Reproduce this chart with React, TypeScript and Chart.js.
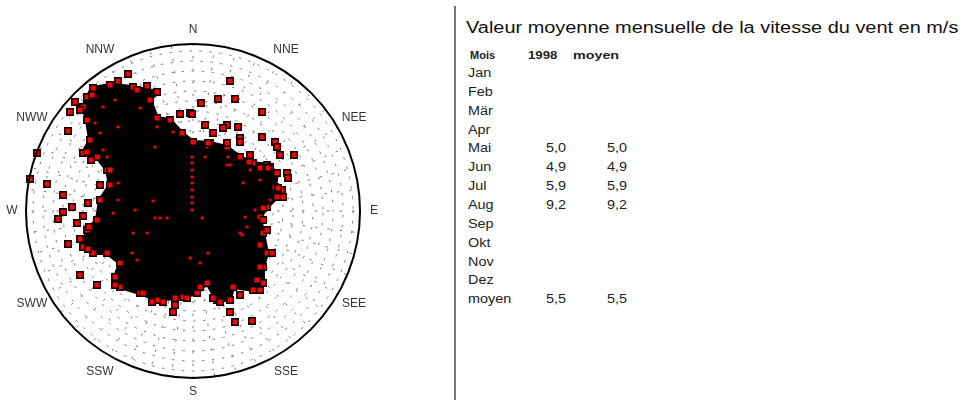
import React, { useEffect, useRef } from "react";
import { Chart, registerables } from "chart.js";

Chart.register(...registerables);

// Wind rose: each observation is stored as its east / north components in m/s.
const R_MAX = 16.7;
const DIRECTIONS = ["N", "NNE", "NEE", "E", "SEE", "SSE", "S", "SSW", "SWW", "W", "NWW", "NNW"];

// Outline of the dense core of observations (east, north components)
const cloudEast = [
  -10.0, -8.3, -6.0, -3.6, -4.3, -3.6, -2.3, -1.1, 0.0, 1.7, 3.4, 4.7, 6.0, 7.4, 8.4, 8.2, 8.4, 7.4,
  6.7, 7.0, 7.4, 7.0, 7.0, 6.0, 4.0, 3.7, 2.4, 1.4, 0.4, -1.0, -1.8, -3.6, -5.3, -7.3, -7.8, -7.3,
  -8.6, -10.0, -11.0, -10.6, -9.6, -9.3, -8.3, -8.6, -9.6, -11.0, -10.3, -10.6, -11.0, -10.6, -10.0,
];
const cloudNorth = [
  12.3, 12.6, 12.4, 11.9, 11.1, 9.3, 9.1, 7.8, 6.9, 6.8, 6.4, 5.4, 4.8, 4.6, 3.8, 2.4, 1.4, 0.4,
  -0.6, -2.2, -4.2, -5.6, -7.2, -7.9, -7.6, -8.9, -8.9, -7.2, -8.2, -8.6, -8.7, -8.9, -8.2, -7.6, -6.6,
  -5.2, -4.2, -4.2, -3.6, -1.9, -0.9, 1.1, 2.6, 4.1, 5.4, 5.8, 7.1, 9.1, 10.4, 11.4, 12.3,
];

// Observations visible inside the dense core
const innerEast = [
  -0.1, -0.1, -0.1, -0.1, -0.1, -0.1, -0.1, -0.1, -0.1, -4.0, -5.8, -3.8, -3.3, -2.6, 0.9, 1.2, 1.4,
  3.7, 3.5, 5.0, 5.2, 4.7, 5.4, -4.6, -6.0, -6.1, -5.6, -0.3, 0.7, 1.5, -7.5, -7.5, -8.0, -9.8, -9.0,
  -9.8, -9.3, -9.0, -8.6, -7.8, -7.5, -5.3, -3.6, -3.8, -2.0, 3.4, 5.7, 6.7, 7.7, 6.2, 4.9,
];
const innerNorth = [
  5.4, 4.8, 4.1, 3.4, 2.8, 2.1, 1.4, 0.8, 0.1, 1.0, 0.1, -0.7, -0.7, -0.7, -0.7, 5.4, 6.4, 4.6, 5.4,
  2.8, -0.6, -2.2, -1.6, -2.2, -2.2, -4.2, -4.9, -4.7, -5.2, -4.2, 2.8, 1.1, -0.2, 11.4, 10.4, 8.8,
  7.8, 6.1, 5.4, 11.1, 8.4, 10.3, 8.4, 6.4, 7.9, 4.6, 4.1, 3.1, 1.1, 0.1, -2.4,
];

// Scattered single observations around the core
const singleEast = [
  -6.5, -7.5, -5.6, -4.6, -3.6, 3.7, 2.5, 4.2, 0.8, -0.3, -1.3, 6.9, 1.2, 3.4, 4.5, 2.0, 3.0, 4.7,
  6.9, 8.2, 8.4, 8.7, 10.1, 7.7, 9.4, 8.9, 9.0, 7.0, 7.4, 7.9, 6.7, 6.4, 3.7, 4.2, 5.9, -2.0, 2.7,
  -5.0, -7.8, -9.6, -11.3, -12.5, -11.3, -13.5, -13.0, -12.1, -10.5, -13.0, -14.6, -16.3, -15.6,
  -12.5, -12.3, -11.3, -11.8, -9.3, -10.6, -11.6, -4.1, -1.8, 6.7, 0.7,
  -0.1, 4.7, 1.5, 3.4, 5.7, 5.6, 6.7, 7.5, 9.5, 8.5, 7.0, 6.7, -10.1, -10.2, -8.3, -11.0, -10.4,
  -10.5, -3.0, -0.6, 2.0, 4.7,
];
const singleNorth = [
  13.7, 13.0, 12.1, 12.5, 11.9, 13.0, 11.2, 11.2, 10.8, 9.8, 9.7, 9.9, 8.6, 8.6, 8.4, 7.8, 8.3, 7.3,
  7.4, 6.9, 6.4, 5.6, 5.6, 4.4, 3.8, 2.1, 1.4, -0.9, -1.9, -4.2, -5.6, -6.9, -10.1, -11.1, -11.0,
  -10.1, -9.1, -8.2, -7.4, -7.4, -6.4, -3.3, -2.8, -0.8, -0.1, 0.4, 0.8, 1.6, 2.7, 3.2, 5.8, 8.0,
  9.9, 10.1, 10.9, 2.6, 5.9, -1.2, -9.1, -9.4, -7.9, -7.6,
  9.7, 6.9, 6.8, 6.8, 5.6, 4.9, 4.3, 4.3, 3.3, 2.3, 0.3, -3.4, 11.6, 5.1, 4.1, -0.5, -1.6,
  -3.8, -9.1, -8.7, -8.7, -8.4,
];

// Monthly mean wind speed table (m/s)
const MONTHS = ["Jan", "Feb", "Mär", "Apr", "Mai", "Jun", "Jul", "Aug", "Sep", "Okt", "Nov", "Dez"];
const SPEED_1998 = [null, null, null, null, 5.0, 4.9, 5.9, 9.2, null, null, null, null];
const SPEED_MEAN = [null, null, null, null, 5.0, 4.9, 5.9, 9.2, null, null, null, null];
const YEAR_1998 = 5.5;
const YEAR_MEAN = 5.5;

const toPoints = (east: number[], north: number[]) => east.map((e, i) => ({ x: e, y: north[i] }));
const fmt = (v: number | null) => (v == null ? "" : v.toFixed(1).replace(".", ","));

const roseGrid = {
  id: "roseGrid",
  beforeDatasetsDraw(chart: any) {
    const { ctx, scales } = chart;
    const cx = scales.x.getPixelForValue(0);
    const cy = scales.y.getPixelForValue(0);
    const unit = scales.x.getPixelForValue(1) - cx;
    ctx.save();
    ctx.fillStyle = "#ffffff";
    ctx.beginPath();
    ctx.arc(cx, cy, R_MAX * unit, 0, Math.PI * 2);
    ctx.fill();
    ctx.strokeStyle = "#7d7d7d";
    ctx.lineWidth = 1;
    // dotted speed rings
    ctx.setLineDash([2.5, 7.5]);
    let k = 0;
    for (let r = 1; r < R_MAX; r += 1) {
      ctx.lineDashOffset = (k * 4) % 10;
      ctx.beginPath();
      ctx.arc(cx, cy, r * unit, 0, Math.PI * 2);
      ctx.stroke();
      k++;
    }
    // dotted direction rays
    ctx.setLineDash([2.5, 10]);
    for (let a = 0; a < 360; a += 7.5) {
      const t = (a * Math.PI) / 180;
      ctx.lineDashOffset = (a * 3) % 12;
      ctx.beginPath();
      ctx.moveTo(cx + Math.sin(t) * unit * 4, cy - Math.cos(t) * unit * 4);
      ctx.lineTo(cx + Math.sin(t) * R_MAX * unit, cy - Math.cos(t) * R_MAX * unit);
      ctx.stroke();
    }
    ctx.restore();
  },
  afterDatasetsDraw(chart: any) {
    const { ctx, scales } = chart;
    const cx = scales.x.getPixelForValue(0);
    const cy = scales.y.getPixelForValue(0);
    const unit = scales.x.getPixelForValue(1) - cx;
    const R = R_MAX * unit;
    ctx.save();
    ctx.strokeStyle = "#000000";
    ctx.lineWidth = 2;
    ctx.beginPath();
    ctx.arc(cx, cy, R, 0, Math.PI * 2);
    ctx.stroke();
    ctx.fillStyle = "#333333";
    ctx.font = "12px 'Liberation Sans', Arial, sans-serif";
    ctx.textAlign = "center";
    ctx.textBaseline = "middle";
    DIRECTIONS.forEach((label, i) => {
      const t = (i * 30 * Math.PI) / 180;
      const d = i % 3 === 0 ? R + 14 : R + 19;
      ctx.fillText(label, cx + Math.sin(t) * d, cy - Math.cos(t) * d);
    });
    ctx.restore();
  },
};

function WindRose() {
  const ref = useRef<HTMLCanvasElement | null>(null);
  useEffect(() => {
    if (!ref.current) return;
    const cloud = toPoints(cloudEast, cloudNorth);
    const chart = new Chart(ref.current, {
      type: "scatter",
      data: {
        datasets: [
          {
            label: "singles",
            data: toPoints(singleEast, singleNorth),
            pointStyle: "rect",
            pointRadius: 4.5,
            backgroundColor: "#ff0000",
            borderColor: "#000000",
            borderWidth: 1.5,
            order: 1,
          },
          {
            label: "inner",
            data: toPoints(innerEast, innerNorth),
            pointStyle: "rect",
            pointRadius: 2,
            backgroundColor: "#ff0000",
            borderWidth: 0,
            order: 2,
          },
          {
            label: "core",
            data: cloud,
            showLine: true,
            fill: "shape",
            tension: 0,
            backgroundColor: "#000000",
            borderColor: "#000000",
            borderWidth: 4,
            pointStyle: "rect",
            pointRadius: 4.5,
            pointBackgroundColor: "#ff0000",
            pointBorderColor: "#000000",
            pointBorderWidth: 1.5,
            order: 3,
          } as any,
        ],
      },
      options: {
        animation: false,
        responsive: false,
        maintainAspectRatio: false,
        layout: { padding: { left: 26, right: 40, top: 44, bottom: 22 } },
        scales: {
          x: { type: "linear", min: -R_MAX, max: R_MAX, display: false },
          y: { type: "linear", min: -R_MAX, max: R_MAX, display: false },
        },
        plugins: { legend: { display: false }, tooltip: { enabled: false } },
      },
      plugins: [roseGrid],
    });
    return () => chart.destroy();
  }, []);
  return (
    <canvas
      ref={ref}
      width={400}
      height={400}
      style={{ position: "absolute", left: 0, top: 0, width: 400, height: 400 }}
    />
  );
}

const TXT = "'Liberation Sans', Arial, sans-serif";

function Cell(props: { x: number; y: number; text: string; bold?: boolean; sx?: number; size?: number; color?: string }) {
  const { x, y, text, bold, sx = 1.2, size = 12, color = "#222" } = props;
  return (
    <div
      style={{
        position: "absolute",
        left: x,
        top: y - 9,
        height: 18,
        lineHeight: "18px",
        fontFamily: TXT,
        fontSize: size,
        fontWeight: bold ? 700 : 400,
        color,
        whiteSpace: "nowrap",
        transform: `scaleX(${sx})`,
        transformOrigin: "left center",
      }}
    >
      {text}
    </div>
  );
}

export default function App() {
  const rowY = (i: number) => 73 + i * 18.85;
  return (
    <div style={{ position: "absolute", left: 0, top: 0, width: 960, height: 400, background: "#fff", overflow: "hidden" }}>
      <WindRose />
      <div style={{ position: "absolute", left: 454, top: 6, width: 1.5, height: 394, background: "#777" }} />
      <Cell x={466} y={28} text="Valeur moyenne mensuelle de la vitesse du vent en m/s" size={16} sx={1.245} color="#111" />
      <Cell x={470} y={55} text="Mois" bold size={11} sx={1.0} />
      <Cell x={528} y={55} text="1998" bold size={11} sx={1.2} />
      <Cell x={573} y={55} text="moyen" bold size={11} sx={1.3} />
      {MONTHS.map((m, i) => (
        <React.Fragment key={m}>
          <Cell x={468} y={rowY(i)} text={m} />
          <Cell x={546} y={rowY(i)} text={fmt(SPEED_1998[i])} />
          <Cell x={607} y={rowY(i)} text={fmt(SPEED_MEAN[i])} />
        </React.Fragment>
      ))}
      <Cell x={468} y={299} text="moyen" />
      <Cell x={546} y={299} text={fmt(YEAR_1998)} />
      <Cell x={607} y={299} text={fmt(YEAR_MEAN)} />
    </div>
  );
}
